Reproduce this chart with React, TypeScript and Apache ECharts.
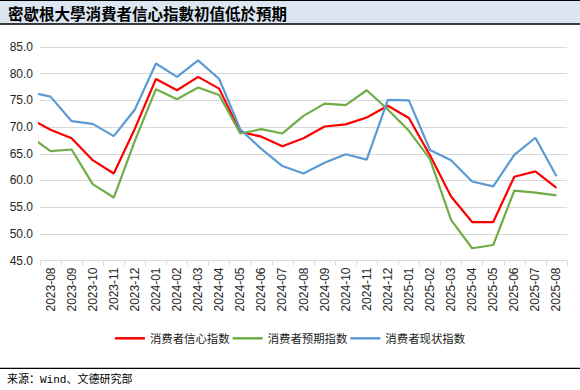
import React, { useEffect, useRef } from "react";
import * as echarts from "echarts";

const titleText = "密歇根大學消費者信心指數初值低於預期";
const sourceText = "来源：Wind、文德研究部";

const months = [
  "2023-08", "2023-09", "2023-10", "2023-11", "2023-12",
  "2024-01", "2024-02", "2024-03", "2024-04", "2024-05", "2024-06",
  "2024-07", "2024-08", "2024-09", "2024-10", "2024-11", "2024-12",
  "2025-01", "2025-02", "2025-03", "2025-04", "2025-05", "2025-06",
  "2025-07", "2025-08",
];

const seriesNames = ["消费者信心指数", "消费者预期指数", "消费者现状指数"];

// preceding month (2023-07), drawn only as the clipped line lead-in
const leadSentiment = 71.6;
const leadExpectations = 68.3;
const leadCurrent = 76.6;

const sentiment = [
  69.5, 67.9, 63.8, 61.3, 69.7, 79.0, 76.9, 79.4, 77.2, 69.1, 68.2, 66.4,
  67.9, 70.1, 70.5, 71.8, 74.0, 71.7, 64.7, 57.0, 52.2, 52.2, 60.7, 61.7, 58.6,
];
const expectations = [
  65.5, 65.8, 59.3, 56.8, 67.4, 77.1, 75.2, 77.4, 76.0, 68.8, 69.6, 68.8,
  72.1, 74.4, 74.1, 76.9, 73.3, 69.3, 64.0, 52.6, 47.3, 47.9, 58.1, 57.7, 57.2,
];
const current = [
  75.7, 71.1, 70.6, 68.3, 73.3, 81.9, 79.4, 82.5, 79.0, 69.6, 65.9, 62.7,
  61.3, 63.3, 64.9, 63.9, 75.1, 75.0, 65.7, 63.8, 59.8, 58.9, 64.8, 68.0, 60.8,
];

const colors = ["#ff0000", "#70ad47", "#5b9bd5"];

function toPoints(lead: number, values: number[]) {
  const pts: number[][] = [[-0.5, lead]];
  values.forEach((v, i) => pts.push([i + 0.5, v]));
  return pts;
}

export default function App() {
  const ref = useRef<HTMLDivElement>(null);
  useEffect(() => {
    if (!ref.current) return;
    const chart = echarts.init(ref.current, undefined, { renderer: "svg" });
    const leads = [leadSentiment, leadExpectations, leadCurrent];
    const vals = [sentiment, expectations, current];
    chart.setOption({
      animation: false,
      backgroundColor: "#ffffff",
      grid: { left: 40, right: 13, top: 47, bottom: 129.5, containLabel: false },
      legend: {
        bottom: 41,
        left: "center",
        icon: "rect",
        itemWidth: 30,
        itemHeight: 2.5,
        itemGap: 3,
        data: seriesNames,
        textStyle: {
          fontFamily: "'Noto Sans CJK SC'",
          fontSize: 11.4,
          color: "#1a1a1a",
        },
      },
      xAxis: [
        {
          type: "category",
          data: months,
          boundaryGap: true,
          axisLine: { lineStyle: { color: "#d9d9d9", width: 1 } },
          axisTick: { show: true, length: 5, lineStyle: { color: "#d9d9d9" } },
          axisLabel: {
            rotate: 90,
            interval: 0,
            margin: 7,
            fontFamily: "'Liberation Sans'",
            fontSize: 12,
            color: "#262626",
          },
          splitLine: { show: false },
        },
        {
          type: "value",
          min: 0,
          max: months.length,
          show: false,
          splitLine: { show: false },
        },
      ],
      yAxis: {
        type: "value",
        min: 45,
        max: 85,
        interval: 5,
        axisLine: { show: false },
        axisTick: { show: false },
        axisLabel: {
          margin: 7,
          fontFamily: "'Liberation Sans'",
          fontSize: 12,
          color: "#262626",
          formatter: (v: number) => v.toFixed(1),
        },
        splitLine: { lineStyle: { color: "#d9d9d9", width: 1 } },
      },
      series: seriesNames.map((name, k) => ({
        name,
        type: "line",
        xAxisIndex: 1,
        data: toPoints(leads[k], vals[k]),
        symbol: "none",
        clip: true,
        color: colors[k],
        lineStyle: { color: colors[k], width: 2.2 },
      })),
      graphic: [
        {
          type: "rect",
          shape: { x: 0, y: 0, width: 580, height: 24 },
          style: { fill: "#dce6f2", stroke: "none" },
          z: 1,
        },
        {
          type: "line",
          shape: { x1: 0, y1: 0.5, x2: 580, y2: 0.5 },
          style: { stroke: "#000000", lineWidth: 1 },
          z: 2,
        },
        {
          type: "line",
          shape: { x1: 0, y1: 24, x2: 580, y2: 24 },
          style: { stroke: "#000000", lineWidth: 1.5 },
          z: 2,
        },
        {
          type: "text",
          x: 8,
          y: 12.5,
          style: {
            text: titleText,
            fill: "#000000",
            font: "bold 15.5px 'Noto Sans CJK TC'",
            textVerticalAlign: "middle",
            verticalAlign: "middle",
          },
          z: 3,
        },
        {
          type: "line",
          shape: { x1: 0, y1: 368.3, x2: 580, y2: 368.3 },
          style: { stroke: "#000000", lineWidth: 1.2 },
          z: 2,
        },
        {
          type: "text",
          x: 7,
          y: 380,
          style: {
            text: sourceText,
            fill: "#000000",
            font: "11px 'Liberation Mono', 'Noto Sans CJK SC'",
            verticalAlign: "middle",
          },
          z: 3,
        },
      ],
    });
    return () => chart.dispose();
  }, []);
  return (
    <div
      ref={ref}
      style={{ position: "fixed", left: 0, top: 0, width: 580, height: 390 }}
    />
  );
}
